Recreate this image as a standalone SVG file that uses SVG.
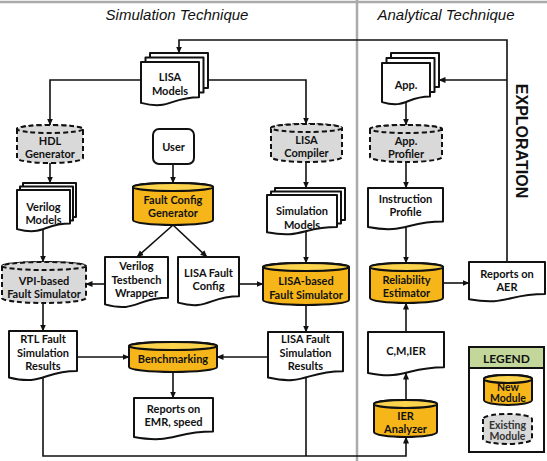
<svg xmlns="http://www.w3.org/2000/svg" width="547" height="461" viewBox="0 0 547 461">
<defs>
<marker id="ah" markerWidth="7" markerHeight="7" refX="6.5" refY="3.5" orient="auto" markerUnits="userSpaceOnUse"><path d="M0,0.5 L7,3.5 L0,6.5 z" fill="#111"/></marker>
<style>
.t{font-family:Lato,"Liberation Sans",sans-serif;font-weight:bold;font-size:11px;text-anchor:middle;fill:#111}
.ttl{font-family:"Liberation Sans",Arial,sans-serif;font-style:italic;font-size:15px;text-anchor:middle;fill:#111}
.doc{fill:#fff;stroke:#111;stroke-width:2;stroke-linejoin:round}
.new{fill:#f6b619;stroke:#111;stroke-width:2}
.newtop{fill:#fcd34d;stroke:#111;stroke-width:2}
.old{fill:#d9d9d9;stroke:#111;stroke-width:2;stroke-dasharray:5 3}
.c{fill:none;stroke:#111;stroke-width:1.6}
.a{marker-end:url(#ah)}
.sep{stroke:#aaa;stroke-width:2.5;fill:none}
</style>
</defs>
<rect width="547" height="461" fill="#fff"/>
<g id="frame">
<line class="sep" x1="0" y1="2" x2="547" y2="2"/>
<line class="sep" x1="357" y1="0" x2="357" y2="461"/>
<text class="ttl" x="177" y="20">Simulation Technique</text>
<text class="ttl" x="446" y="20">Analytical Technique</text>
<text x="521" y="141" transform="rotate(90 521 141)" style="font-family:'Liberation Sans',Arial,sans-serif;font-weight:bold;font-size:16px;text-anchor:middle;dominant-baseline:central;fill:#111">EXPLORATION</text>
</g>
<g id="connectors">
<path class="c a" d="M507,262 V40 H179 V53"/>
<path class="c a" d="M507,80 H439"/>
<path class="c a" d="M141,80 H50 V125"/>
<path class="c a" d="M208,80 H306 V124"/>
<path class="c a" d="M50,163 V183"/>
<path class="c a" d="M43,229 V262"/>
<path class="c a" d="M43,303 V331"/>
<path class="c a" d="M173,164 V183"/>
<path class="c a" d="M173,225 L137,257"/>
<path class="c a" d="M173,225 L207,257"/>
<path class="c a" d="M105,284 H86"/>
<path class="c a" d="M239,284 H263"/>
<path class="c a" d="M306,162 V188"/>
<path class="c a" d="M306,232 V263"/>
<path class="c a" d="M306,305 V332"/>
<path class="c a" d="M77,357 H129"/>
<path class="c a" d="M268,357 H217"/>
<path class="c a" d="M173,372 V398"/>
<path class="c a" d="M43,377 V456 H406 V437"/>
<path class="c" d="M306,377 V456"/>
<path class="c a" d="M406,102 V125"/>
<path class="c a" d="M406,162 V188"/>
<path class="c a" d="M406,227 V263"/>
<path class="c a" d="M443,283 H469"/>
<path class="c a" d="M406,332 V303"/>
<path class="c a" d="M406,400 V373"/>
</g>
<g id="lisa-models">
<rect class="doc" x="150" y="53" width="58" height="35"/>
<rect class="doc" x="145.5" y="57.5" width="58" height="35"/>
<path class="doc" d="M141,62 H199 V97.2 C170,97.2 170,110.4 141,102.9 Z"/>
<text class="t" x="170" y="80.5">LISA</text>
<text class="t" x="170" y="95">Models</text>
</g>
<g id="hdl-generator">
<path class="old" d="M17,129 V158 A33,5 0 0 0 83,158 V129 A33,4 0 0 0 17,129 Z"/>
<ellipse class="old" cx="50" cy="129" rx="33" ry="4"/>
<text class="t" x="50" y="145">HDL</text>
<text class="t" x="50" y="158">Generator</text>
</g>
<g id="verilog-models">
<rect class="doc" x="23" y="183" width="53" height="34"/>
<rect class="doc" x="20" y="186.5" width="53" height="34"/>
<path class="doc" d="M17,190 H70 V223.6 C43.5,223.6 43.5,236.2 17,229.1 Z"/>
<text class="t" x="43.5" y="211">Verilog</text>
<text class="t" x="43.5" y="224">Models</text>
</g>
<g id="vpi-fault-simulator">
<path class="old" d="M2,266 V298 A42,5 0 0 0 86,298 V266 A42,4 0 0 0 2,266 Z"/>
<ellipse class="old" cx="44" cy="266" rx="42" ry="4"/>
<text class="t" x="44" y="285">VPI-based</text>
<text class="t" x="44" y="298">Fault Simulator</text>
</g>
<g id="user">
<rect x="153" y="129" width="41" height="35" rx="6" fill="#fff" stroke="#111" stroke-width="2"/>
<text class="t" x="173.5" y="151">User</text>
</g>
<g id="fault-config-generator">
<path class="new" d="M133,187 V220 A40,5 0 0 0 213,220 V187 A40,4 0 0 0 133,187 Z"/>
<ellipse class="newtop" cx="173" cy="187" rx="40" ry="4"/>
<text class="t" x="173" y="204">Fault Config</text>
<text class="t" x="173" y="217">Generator</text>
</g>
<g id="verilog-testbench-wrapper">
<path class="doc" d="M105,257 H168 V297.8 C136.5,297.8 136.5,313.1 105,304.4 Z"/>
<text class="t" x="136.5" y="270">Verilog</text>
<text class="t" x="136.5" y="283.5">Testbench</text>
<text class="t" x="136.5" y="297">Wrapper</text>
</g>
<g id="lisa-fault-config">
<path class="doc" d="M178,257 H239 V296.2 C208.5,296.2 208.5,310.9 178,302.6 Z"/>
<text class="t" x="208.5" y="276.5">LISA Fault</text>
<text class="t" x="208.5" y="290">Config</text>
</g>
<g id="lisa-compiler">
<path class="old" d="M271,128 V157 A35.5,5 0 0 0 342,157 V128 A35.5,4 0 0 0 271,128 Z"/>
<ellipse class="old" cx="306.5" cy="128" rx="35.5" ry="4"/>
<text class="t" x="306.5" y="144">LISA</text>
<text class="t" x="306.5" y="157">Compiler</text>
</g>
<g id="simulation-models">
<rect class="doc" x="275" y="188" width="70" height="32"/>
<rect class="doc" x="271" y="191.5" width="70" height="32"/>
<path class="doc" d="M267,195 H337 V227 C302,227 302,239 267,232.2 Z"/>
<text class="t" x="302" y="215">Simulation</text>
<text class="t" x="302" y="228.5">Models</text>
</g>
<g id="lisa-fault-simulator">
<path class="new" d="M263,267 V300 A43,5 0 0 0 349,300 V267 A43,4 0 0 0 263,267 Z"/>
<ellipse class="newtop" cx="306" cy="267" rx="43" ry="4"/>
<text class="t" x="306" y="285">LISA-based</text>
<text class="t" x="306" y="298.5">Fault Simulator</text>
</g>
<g id="rtl-fault-simulation-results">
<path class="doc" d="M9,331 H77 V371 C43,371 43,386 9,377.5 Z"/>
<text class="t" x="43" y="343">RTL Fault</text>
<text class="t" x="43" y="356.5">Simulation</text>
<text class="t" x="43" y="370">Results</text>
</g>
<g id="benchmarking">
<path class="new" d="M129,346 V367 A44,5 0 0 0 217,367 V346 A44,4 0 0 0 129,346 Z"/>
<ellipse class="newtop" cx="173" cy="346" rx="44" ry="4"/>
<text class="t" x="173" y="363">Benchmarking</text>
</g>
<g id="lisa-fault-simulation-results">
<path class="doc" d="M268,332 H343 V371.2 C305.5,371.2 305.5,385.9 268,377.6 Z"/>
<text class="t" x="305.5" y="343">LISA Fault</text>
<text class="t" x="305.5" y="356.5">Simulation</text>
<text class="t" x="305.5" y="370">Results</text>
</g>
<g id="reports-emr">
<path class="doc" d="M134,398 H213 V431.6 C173.5,431.6 173.5,444.2 134,437.1 Z"/>
<text class="t" x="173.5" y="413">Reports on</text>
<text class="t" x="173.5" y="426">EMR, speed</text>
</g>
<g id="app">
<rect class="doc" x="391" y="53" width="48" height="34"/>
<rect class="doc" x="386.5" y="58" width="48" height="34"/>
<path class="doc" d="M382,63 H430 V96.6 C406,96.6 406,109.2 382,102.1 Z"/>
<text class="t" x="406" y="89">App.</text>
</g>
<g id="app-profiler">
<path class="old" d="M370,129 V157 A36,5 0 0 0 442,157 V129 A36,4 0 0 0 370,129 Z"/>
<ellipse class="old" cx="406" cy="129" rx="36" ry="4"/>
<text class="t" x="406" y="145">App.</text>
<text class="t" x="406" y="157.5">Profiler</text>
</g>
<g id="instruction-profile">
<path class="doc" d="M368,188 H443 V221.6 C405.5,221.6 405.5,234.2 368,227.1 Z"/>
<text class="t" x="405.5" y="203">Instruction</text>
<text class="t" x="405.5" y="216">Profile</text>
</g>
<g id="reliability-estimator">
<path class="new" d="M370,267 V298 A36.5,5 0 0 0 443,298 V267 A36.5,4 0 0 0 370,267 Z"/>
<ellipse class="newtop" cx="406.5" cy="267" rx="36.5" ry="4"/>
<text class="t" x="406.5" y="283.5">Reliability</text>
<text class="t" x="406.5" y="296.5">Estimator</text>
</g>
<g id="reports-aer">
<path class="doc" d="M469,262 H545 V294 C507,294 507,306 469,299.2 Z"/>
<text class="t" x="507" y="277.5">Reports on</text>
<text class="t" x="507" y="290.5">AER</text>
</g>
<g id="cmier">
<path class="doc" d="M368,332 H444 V367.2 C406,367.2 406,380.4 368,372.9 Z"/>
<text class="t" x="406" y="355">C,M,IER</text>
</g>
<g id="ier-analyzer">
<path class="new" d="M374,404 V432 A31.5,5 0 0 0 437,432 V404 A31.5,4 0 0 0 374,404 Z"/>
<ellipse class="newtop" cx="405.5" cy="404" rx="31.5" ry="4"/>
<text class="t" x="405.5" y="420">IER</text>
<text class="t" x="405.5" y="432.5">Analyzer</text>
</g>
<g id="legend">
<rect x="469" y="347" width="75" height="105" fill="#fff" stroke="#111" stroke-width="2"/>
<rect x="469" y="347" width="75" height="21" fill="#c4d79b" stroke="#111" stroke-width="2"/>
<text class="t" x="506.5" y="362.5" style="font-size:12px">LEGEND</text>
<path class="new" d="M484,379 V400 A24,5 0 0 0 532,400 V379 A24,4 0 0 0 484,379 Z"/>
<ellipse class="newtop" cx="508" cy="379" rx="24" ry="4"/>
<text class="t" x="508" y="391" style="font-size:10.5px">New</text>
<text class="t" x="508" y="402" style="font-size:10.5px">Module</text>
<path class="old" d="M483,419 V439 A24.5,5 0 0 0 532,439 V419 A24.5,5 0 0 0 483,419 Z"/>
<text class="t" x="507.5" y="428.5" style="font-size:10.5px;fill:#333">Existing</text>
<text class="t" x="507.5" y="440" style="font-size:10.5px;fill:#333">Module</text>
</g>
</svg>
